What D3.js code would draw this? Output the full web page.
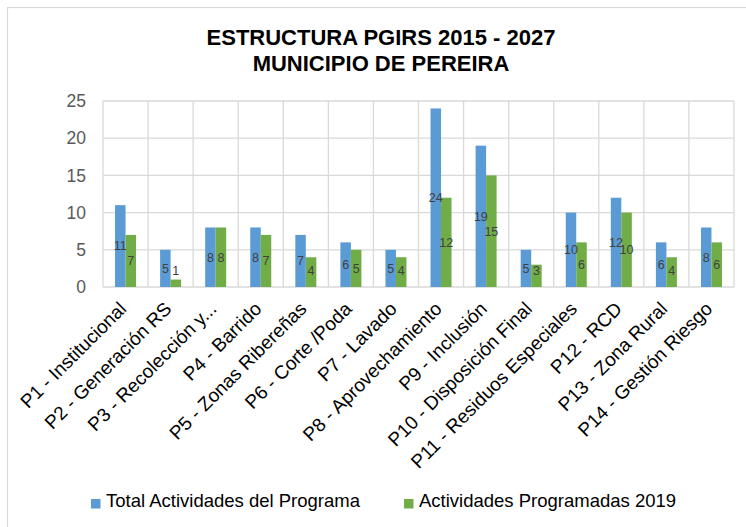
<!DOCTYPE html>
<html>
<head>
<meta charset="utf-8">
<script src="https://cdn.jsdelivr.net/npm/d3@7"></script>
<style>
  body { margin: 0; background: #fff; }
  text { font-family: "Liberation Sans", Arial, sans-serif; }
</style>
</head>
<body>
<div id="chart"></div>
<script>
var programas = ["P1 - Institucional", "P2 - Generación RS", "P3 - Recolección y...", "P4 - Barrido",
    "P5 - Zonas Ribereñas", "P6 - Corte /Poda", "P7 - Lavado", "P8 - Aprovechamiento", "P9 - Inclusión",
    "P10 - Disposición Final", "P11 - Residuos Especiales", "P12 - RCD", "P13 - Zona Rural", "P14 - Gestión Riesgo"];
var totalActividades = [11, 5, 8, 8, 7, 6, 5, 24, 19, 5, 10, 12, 6, 8];
var actividades2019 = [7, 1, 8, 7, 4, 5, 4, 12, 15, 3, 6, 10, 4, 6];
var seriesNames = ["Total Actividades del Programa", "Actividades Programadas 2019"];
var yTicks = [0, 5, 10, 15, 20, 25];
var titleLines = ["ESTRUCTURA PGIRS 2015 - 2027", "MUNICIPIO DE PEREIRA"];

var w = 746, h = 527;
var colors = ["#5b9bd5", "#70ad47"];
var gridColor = "#d9d9d9";

var svg = d3.select("#chart")
    .append("svg")
    .attr("width", w)
    .attr("height", h);

// chart frame
svg.append("rect")
    .attr("x", 7.5).attr("y", 7.5)
    .attr("width", 770).attr("height", 540)
    .attr("fill", "none")
    .attr("stroke", gridColor)
    .attr("stroke-width", 1.2);

var plot = { left: 103, right: 734, top: 101, bottom: 287 };

var x = d3.scaleBand()
    .domain(programas)
    .range([plot.left, plot.right])
    .padding(0);

var groupWidth = 21;
var xSub = d3.scaleBand()
    .domain(d3.range(seriesNames.length))
    .range([-groupWidth / 2, groupWidth / 2]);

var y = d3.scaleLinear()
    .domain([0, 25])
    .range([plot.bottom, plot.top]);

// horizontal gridlines
svg.append("g")
    .selectAll("line")
    .data(yTicks)
    .enter()
    .append("line")
    .attr("x1", plot.left).attr("x2", plot.right)
    .attr("y1", function (d) { return y(d); })
    .attr("y2", function (d) { return y(d); })
    .attr("stroke", gridColor)
    .attr("stroke-width", 1.3);

// vertical gridlines at category boundaries
var bounds = programas.map(function (d) { return x(d); }).concat([plot.right]);
svg.append("g")
    .selectAll("line")
    .data(bounds)
    .enter()
    .append("line")
    .attr("x1", function (d) { return d; })
    .attr("x2", function (d) { return d; })
    .attr("y1", plot.top).attr("y2", plot.bottom)
    .attr("stroke", gridColor)
    .attr("stroke-width", 1.3);

// y axis labels
var yAxis = svg.append("g")
    .attr("transform", "translate(" + 86 + ",0)")
    .call(d3.axisLeft(y).tickValues(yTicks).tickSize(0).tickPadding(0));
yAxis.select(".domain").remove();
yAxis.selectAll("text")
    .attr("font-family", "Liberation Sans, Arial, sans-serif")
    .attr("font-size", "17.5px")
    .attr("fill", "#595959");

// bars
var rows = programas.map(function (p, i) {
    return { name: p, values: [totalActividades[i], actividades2019[i]] };
});

var groups = svg.selectAll(".grupo")
    .data(rows)
    .enter()
    .append("g")
    .attr("class", "grupo")
    .attr("transform", function (d) { return "translate(" + (x(d.name) + x.bandwidth() / 2) + ",0)"; });

groups.selectAll("rect")
    .data(function (d) { return d.values; })
    .enter()
    .append("rect")
    .attr("x", function (d, i) { return xSub(i); })
    .attr("y", function (d) { return y(d); })
    .attr("width", xSub.bandwidth())
    .attr("height", function (d) { return y(0) - y(d); })
    .attr("fill", function (d, i) { return colors[i]; });

groups.selectAll("text")
    .data(function (d) { return d.values; })
    .enter()
    .append("text")
    .attr("x", function (d, i) { return xSub(i) + xSub.bandwidth() / 2; })
    .attr("y", function (d) { return Math.min((y(d) + y(0)) / 2, plot.bottom - 16); })
    .attr("dy", "0.35em")
    .attr("text-anchor", "middle")
    .attr("font-size", "12.5px")
    .attr("fill", "#404040")
    .text(function (d) { return d; });

// x axis labels
var xAxis = svg.append("g")
    .attr("transform", "translate(0," + plot.bottom + ")")
    .call(d3.axisBottom(x).tickSize(0).tickPadding(0));
xAxis.select(".domain").remove();
xAxis.selectAll("text")
    .attr("font-family", "Liberation Sans, Arial, sans-serif")
    .attr("font-size", "19px")
    .attr("fill", "#000")
    .attr("text-anchor", "end")
    .attr("y", 0)
    .attr("dy", 0)
    .attr("transform", "translate(2,23) rotate(-45)");

// title
svg.append("g")
    .selectAll("text")
    .data(titleLines)
    .enter()
    .append("text")
    .attr("x", 381)
    .attr("y", function (d, i) { return 45 + i * 26; })
    .attr("text-anchor", "middle")
    .attr("font-size", "22px")
    .attr("font-weight", "bold")
    .attr("fill", "#000")
    .text(function (d) { return d; });

// legend
var legend = svg.append("g").attr("transform", "translate(91,0)");
var lx = 0;
seriesNames.forEach(function (s, i) {
    var item = legend.append("g").attr("transform", "translate(" + lx + ",0)");
    item.append("rect")
        .attr("x", 0).attr("y", 499)
        .attr("width", 9.5).attr("height", 9.5)
        .attr("fill", colors[i]);
    var t = item.append("text")
        .attr("x", 15).attr("y", 507)
        .attr("font-size", "18.5px")
        .attr("fill", "#000")
        .text(s);
    lx += 15 + t.node().getComputedTextLength() + 44;
});
</script>
</body>
</html>
